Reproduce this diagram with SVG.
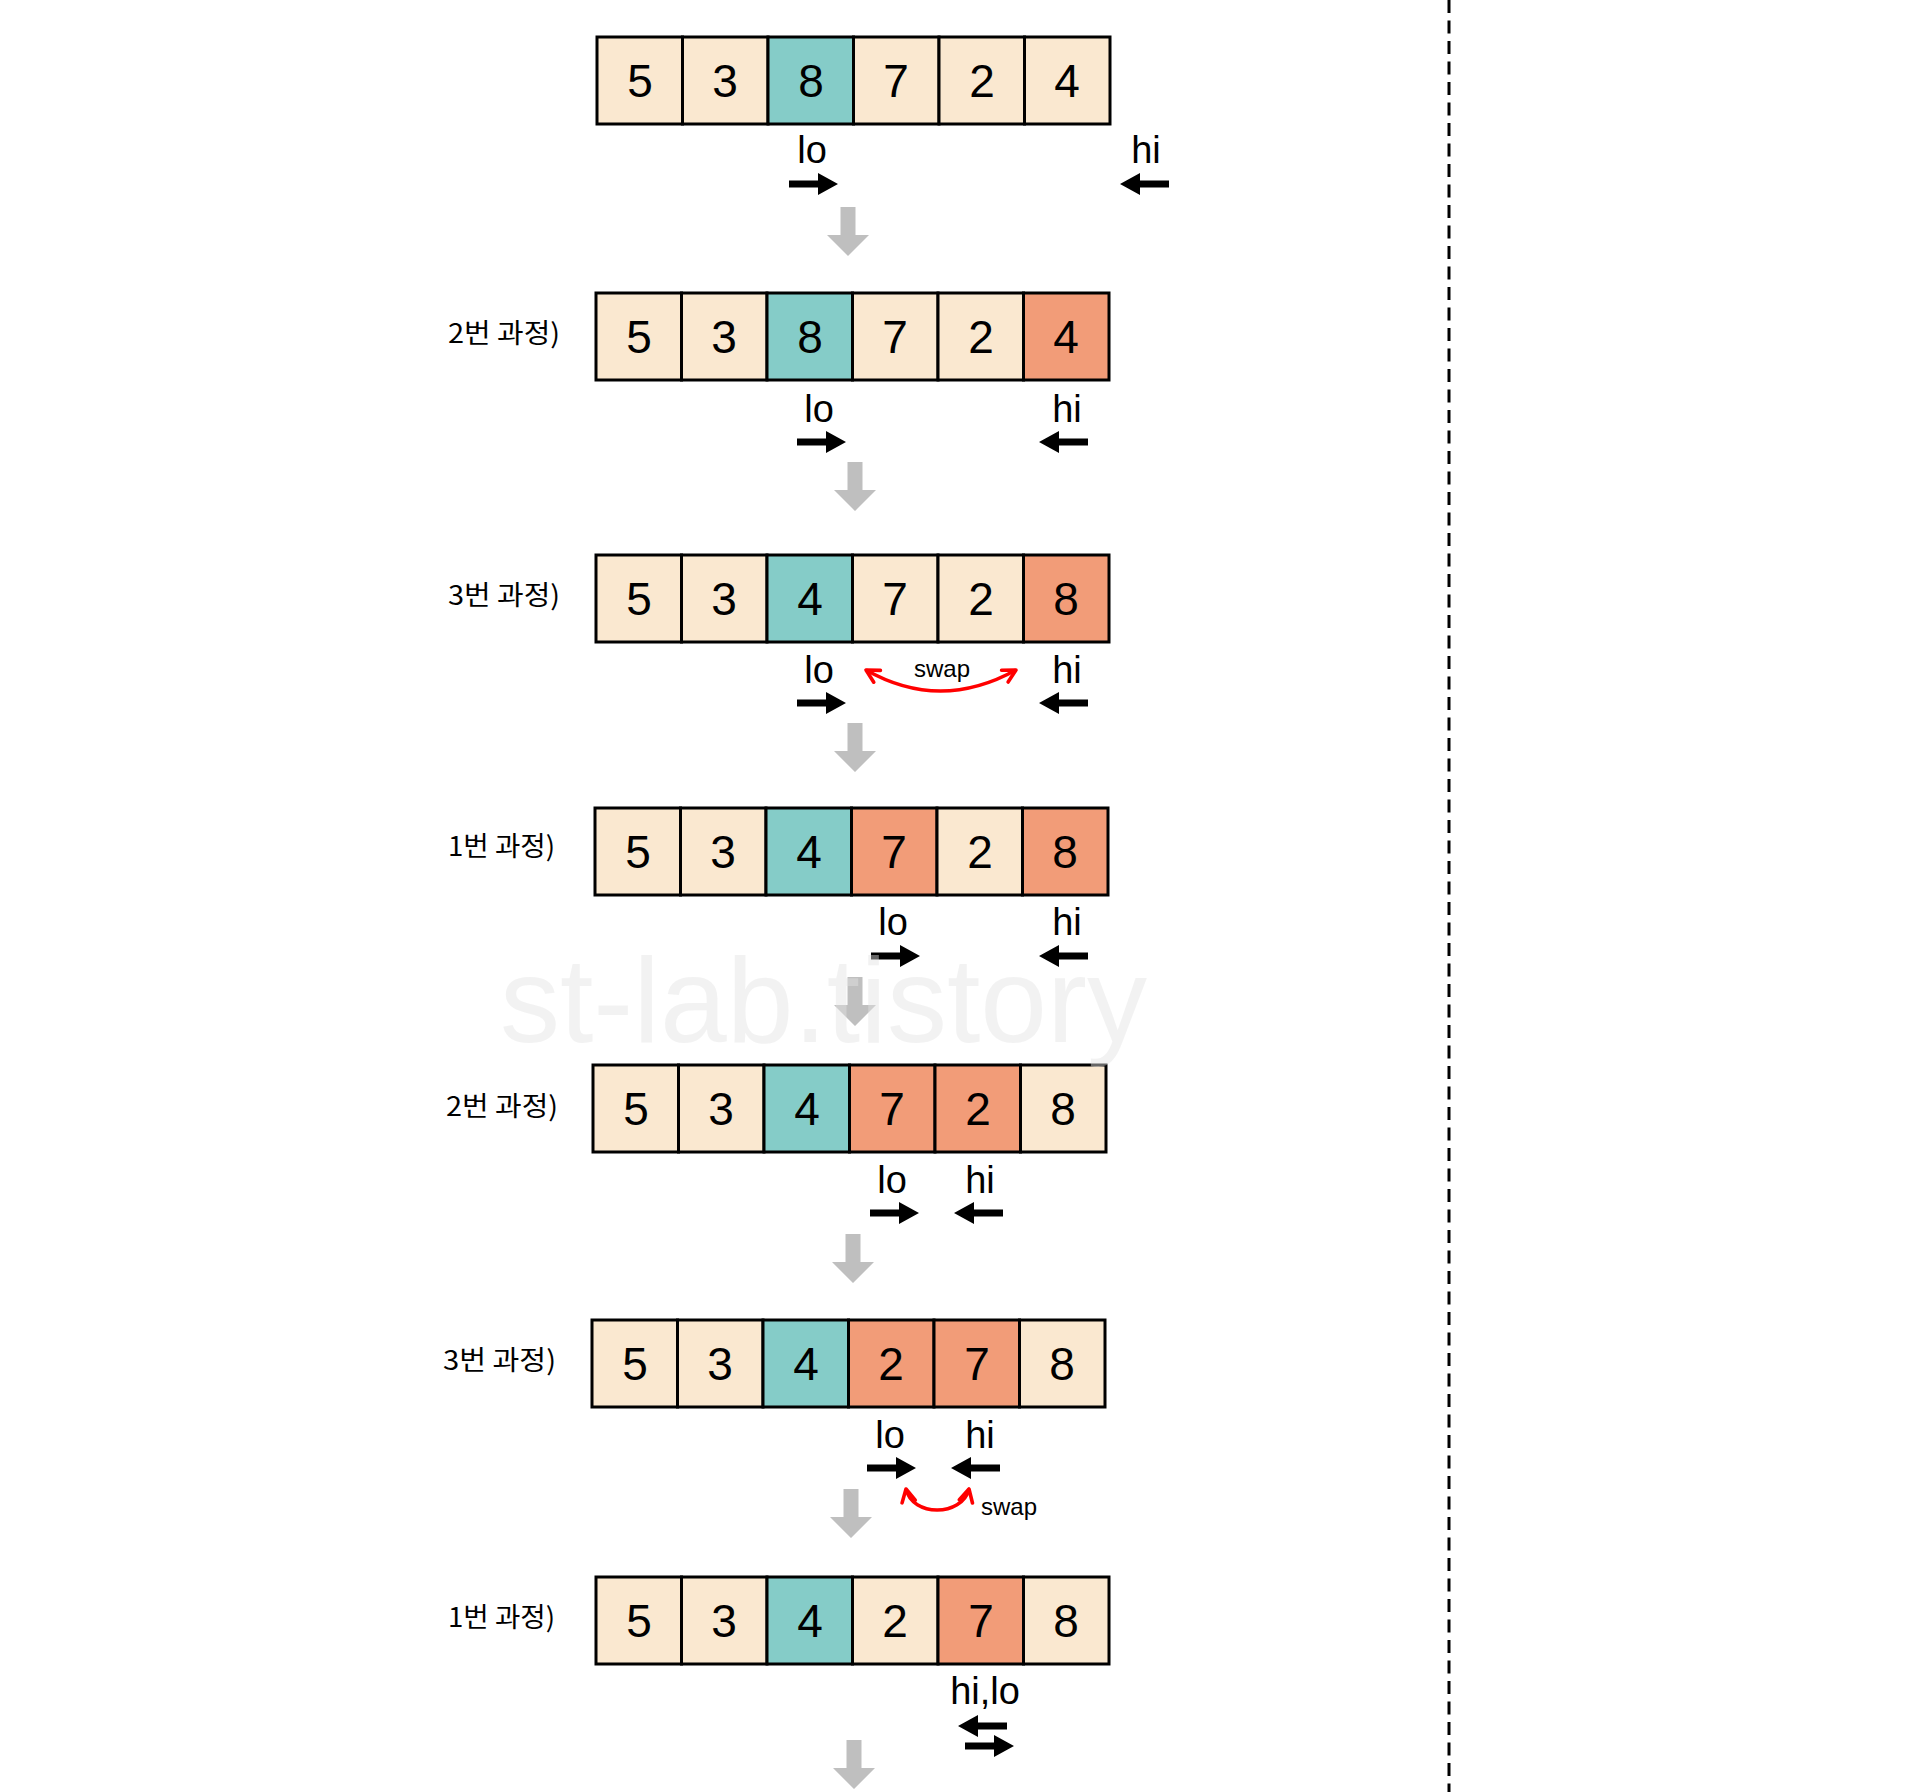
<svg xmlns="http://www.w3.org/2000/svg" width="1920" height="1792" viewBox="0 0 1920 1792">
<style>
.c{stroke:#000;stroke-width:3}
.b{fill:#FAE8D0}
.t{fill:#85CCC8}
.s{fill:#F29C78}
.d{font-family:"Liberation Sans",Arial,sans-serif;font-size:46px;text-anchor:middle;fill:#000}
.p{font-family:"Liberation Sans",Arial,sans-serif;font-size:38px;text-anchor:middle;fill:#000}
.k{font-family:"Noto Sans CJK KR","Liberation Sans",sans-serif;font-size:27px;fill:#000}
.w{font-family:"Liberation Sans",Arial,sans-serif;font-size:24px;text-anchor:middle;fill:#000}
.ba{fill:#000}
.ga{fill:#BFBFBF}
.red{fill:none;stroke:#FF0000;stroke-width:3.5}
</style>
<defs>
<path id="ar" d="M0,-3.5 H29 V-11 L49,0 L29,11 V3.5 H0 Z"/>
<path id="al" d="M0,0 L20,-11 V-3.5 H49 V3.5 H20 V11 Z"/>
<path id="dn" d="M-7.5,0 H7.5 V28 H21 L0,49 L-21,28 H-7.5 Z"/>
<marker id="chev" viewBox="0 0 12 12" refX="10" refY="6" markerWidth="18" markerHeight="18" markerUnits="userSpaceOnUse" orient="auto-start-reverse">
<path d="M1.5,1.5 L10,6 L1.5,10.5" fill="none" stroke="#FF0000" stroke-width="2.4" stroke-linecap="round" stroke-linejoin="round"/>
</marker>
</defs>
<rect width="1920" height="1792" fill="#fff"/>

<g id="row1">
<rect class="c b" x="597" y="37" width="85.5" height="87"/>
<rect class="c b" x="682.5" y="37" width="85.5" height="87"/>
<rect class="c t" x="768" y="37" width="85.5" height="87"/>
<rect class="c b" x="853.5" y="37" width="85.5" height="87"/>
<rect class="c b" x="939" y="37" width="85.5" height="87"/>
<rect class="c b" x="1024.5" y="37" width="85.5" height="87"/>
<text class="d" x="640" y="97">5</text><text class="d" x="725" y="97">3</text><text class="d" x="811" y="97">8</text><text class="d" x="896" y="97">7</text><text class="d" x="982" y="97">2</text><text class="d" x="1067" y="97">4</text>
<text class="p" x="812" y="163">lo</text>
<text class="p" x="1146" y="163">hi</text>
<use href="#ar" class="ba" x="789" y="184"/>
<use href="#al" class="ba" x="1120" y="184"/>
</g>

<g id="row2">
<text class="k" x="448" y="343" textLength="112" lengthAdjust="spacingAndGlyphs">2번 과정)</text>
<rect class="c b" x="596" y="293" width="85.5" height="87"/>
<rect class="c b" x="681.5" y="293" width="85.5" height="87"/>
<rect class="c t" x="767" y="293" width="85.5" height="87"/>
<rect class="c b" x="852.5" y="293" width="85.5" height="87"/>
<rect class="c b" x="938" y="293" width="85.5" height="87"/>
<rect class="c s" x="1023.5" y="293" width="85.5" height="87"/>
<text class="d" x="639" y="353">5</text><text class="d" x="724" y="353">3</text><text class="d" x="810" y="353">8</text><text class="d" x="895" y="353">7</text><text class="d" x="981" y="353">2</text><text class="d" x="1066" y="353">4</text>
<text class="p" x="819" y="422">lo</text>
<text class="p" x="1067" y="422">hi</text>
<use href="#ar" class="ba" x="797" y="442"/>
<use href="#al" class="ba" x="1039" y="442"/>
</g>

<g id="row3">
<text class="k" x="448" y="605" textLength="112" lengthAdjust="spacingAndGlyphs">3번 과정)</text>
<rect class="c b" x="596" y="555" width="85.5" height="87"/>
<rect class="c b" x="681.5" y="555" width="85.5" height="87"/>
<rect class="c t" x="767" y="555" width="85.5" height="87"/>
<rect class="c b" x="852.5" y="555" width="85.5" height="87"/>
<rect class="c b" x="938" y="555" width="85.5" height="87"/>
<rect class="c s" x="1023.5" y="555" width="85.5" height="87"/>
<text class="d" x="639" y="615">5</text><text class="d" x="724" y="615">3</text><text class="d" x="810" y="615">4</text><text class="d" x="895" y="615">7</text><text class="d" x="981" y="615">2</text><text class="d" x="1066" y="615">8</text>
<text class="p" x="819" y="683">lo</text>
<text class="p" x="1067" y="683">hi</text>
<text class="w" x="942" y="677">swap</text>
<use href="#ar" class="ba" x="797" y="703"/>
<use href="#al" class="ba" x="1039" y="703"/>
</g>

<g id="row4">
<text class="k" x="448" y="856" textLength="107" lengthAdjust="spacingAndGlyphs">1번 과정)</text>
<rect class="c b" x="595" y="808" width="85.5" height="87"/>
<rect class="c b" x="680.5" y="808" width="85.5" height="87"/>
<rect class="c t" x="766" y="808" width="85.5" height="87"/>
<rect class="c s" x="851.5" y="808" width="85.5" height="87"/>
<rect class="c b" x="937" y="808" width="85.5" height="87"/>
<rect class="c s" x="1022.5" y="808" width="85.5" height="87"/>
<text class="d" x="638" y="868">5</text><text class="d" x="723" y="868">3</text><text class="d" x="809" y="868">4</text><text class="d" x="894" y="868">7</text><text class="d" x="980" y="868">2</text><text class="d" x="1065" y="868">8</text>
<text class="p" x="893" y="935">lo</text>
<text class="p" x="1067" y="935">hi</text>
<use href="#ar" class="ba" x="871" y="956"/>
<use href="#al" class="ba" x="1039" y="956"/>
</g>

<g id="row5">
<text class="k" x="446" y="1116" textLength="112" lengthAdjust="spacingAndGlyphs">2번 과정)</text>
<rect class="c b" x="593" y="1065" width="85.5" height="87"/>
<rect class="c b" x="678.5" y="1065" width="85.5" height="87"/>
<rect class="c t" x="764" y="1065" width="85.5" height="87"/>
<rect class="c s" x="849.5" y="1065" width="85.5" height="87"/>
<rect class="c s" x="935" y="1065" width="85.5" height="87"/>
<rect class="c b" x="1020.5" y="1065" width="85.5" height="87"/>
<text class="d" x="636" y="1125">5</text><text class="d" x="721" y="1125">3</text><text class="d" x="807" y="1125">4</text><text class="d" x="892" y="1125">7</text><text class="d" x="978" y="1125">2</text><text class="d" x="1063" y="1125">8</text>
<text class="p" x="892" y="1193">lo</text>
<text class="p" x="980" y="1193">hi</text>
<use href="#ar" class="ba" x="870" y="1213"/>
<use href="#al" class="ba" x="954" y="1213"/>
</g>

<g id="row6">
<text class="k" x="443" y="1370" textLength="113" lengthAdjust="spacingAndGlyphs">3번 과정)</text>
<rect class="c b" x="592" y="1320" width="85.5" height="87"/>
<rect class="c b" x="677.5" y="1320" width="85.5" height="87"/>
<rect class="c t" x="763" y="1320" width="85.5" height="87"/>
<rect class="c s" x="848.5" y="1320" width="85.5" height="87"/>
<rect class="c s" x="934" y="1320" width="85.5" height="87"/>
<rect class="c b" x="1019.5" y="1320" width="85.5" height="87"/>
<text class="d" x="635" y="1380">5</text><text class="d" x="720" y="1380">3</text><text class="d" x="806" y="1380">4</text><text class="d" x="891" y="1380">2</text><text class="d" x="977" y="1380">7</text><text class="d" x="1062" y="1380">8</text>
<text class="p" x="890" y="1448">lo</text>
<text class="p" x="980" y="1448">hi</text>
<text class="w" x="1009" y="1515">swap</text>
<use href="#ar" class="ba" x="867" y="1468"/>
<use href="#al" class="ba" x="951" y="1468"/>
</g>

<g id="row7">
<text class="k" x="448" y="1627" textLength="107" lengthAdjust="spacingAndGlyphs">1번 과정)</text>
<rect class="c b" x="596" y="1577" width="85.5" height="87"/>
<rect class="c b" x="681.5" y="1577" width="85.5" height="87"/>
<rect class="c t" x="767" y="1577" width="85.5" height="87"/>
<rect class="c b" x="852.5" y="1577" width="85.5" height="87"/>
<rect class="c s" x="938" y="1577" width="85.5" height="87"/>
<rect class="c b" x="1023.5" y="1577" width="85.5" height="87"/>
<text class="d" x="639" y="1637">5</text><text class="d" x="724" y="1637">3</text><text class="d" x="810" y="1637">4</text><text class="d" x="895" y="1637">2</text><text class="d" x="981" y="1637">7</text><text class="d" x="1066" y="1637">8</text>
<text class="p" x="985" y="1704">hi,lo</text>
<use href="#al" class="ba" x="958" y="1726"/>
<use href="#ar" class="ba" x="965" y="1746"/>
</g>

<g id="connectors">
<use href="#dn" class="ga" x="848" y="207"/>
<use href="#dn" class="ga" x="855" y="462"/>
<use href="#dn" class="ga" x="855" y="723"/>
<use href="#dn" class="ga" x="855" y="977"/>
<use href="#dn" class="ga" x="853" y="1234"/>
<use href="#dn" class="ga" x="851" y="1489"/>
<use href="#dn" class="ga" x="854" y="1740"/>
<path class="red" d="M866,670 Q940,712 1016,670" marker-start="url(#chev)" marker-end="url(#chev)"/>
<path class="red" d="M906,1489 C912,1517 962,1517 969,1489" marker-start="url(#chev)" marker-end="url(#chev)"/>
</g>

<line x1="1449" y1="0" x2="1449" y2="1792" stroke="#000" stroke-width="3" stroke-dasharray="13 7.5"/>
<text x="500" y="1042" font-family="Liberation Sans,Arial,sans-serif" font-size="120" textLength="647" lengthAdjust="spacingAndGlyphs" fill="#E2E2E2" fill-opacity="0.45">st-lab.tistory</text>
</svg>
